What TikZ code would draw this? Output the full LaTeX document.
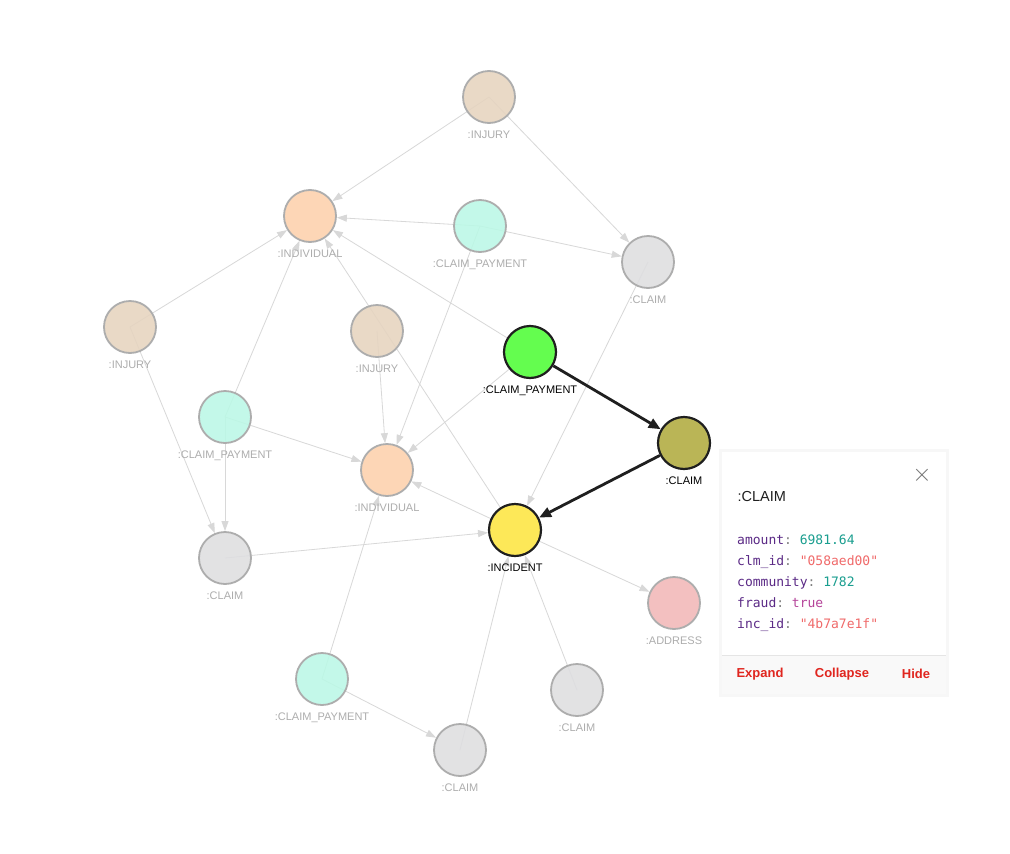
\documentclass[tikz,border=0pt]{standalone}
\usepackage{fontspec}
\setmainfont{Liberation Sans}
\setmonofont{DejaVu Sans Mono}
\usetikzlibrary{arrows.meta,backgrounds}

\definecolor{injC}{HTML}{E6D4BF}
\definecolor{indC}{HTML}{FDD1AC}
\definecolor{payC}{HTML}{BBF8E6}
\definecolor{clmC}{HTML}{DEDEE0}
\definecolor{adrC}{HTML}{F2B8B8}
\definecolor{faint}{HTML}{D8D8D8}
\definecolor{lblC}{HTML}{ADADAD}
\definecolor{keyC}{HTML}{5B2A86}
\definecolor{numC}{HTML}{1A9E8F}
\definecolor{strC}{HTML}{F06A6A}
\definecolor{boolC}{HTML}{B5449A}
\definecolor{btnC}{HTML}{E0261F}
\definecolor{payHot}{HTML}{64FD4F}
\definecolor{clmHot}{HTML}{BAB556}
\definecolor{incHot}{HTML}{FDE858}

\tikzset{
  ent/.style={circle,minimum size=52pt,inner sep=0pt,line width=1.8pt,draw=black!32,
    fill opacity=0.88,draw opacity=1,text opacity=1,
    label={[text=lblC,font=\fontsize{11}{12}\selectfont,yshift=-3pt]below:#1}},
  act/.style={circle,minimum size=52pt,inner sep=0pt,line width=2.2pt,draw=black!88,
    label={[text=black,font=\fontsize{11}{12}\selectfont,yshift=-3pt]below:#1}},
  rel/.style={draw=faint,line width=0.8pt,-{Triangle[length=10pt,width=7pt]}},
  hot/.style={draw=black!88,line width=2.8pt,-{Triangle[length=12pt,width=10pt]}},
  btn/.style={font=\bfseries\fontsize{13}{14}\selectfont,text=btnC},
}

\begin{document}
\begin{tikzpicture}[x=1pt,y=-1pt]
  \useasboundingbox (0,0) rectangle (1010,854);

  % entities
  \node[ent=:INJURY,fill=injC]             (injT) at (489,97)  {};
  \node[ent=:INDIVIDUAL,fill=indC]         (indA) at (310,216) {};
  \node[ent=:CLAIM\_PAYMENT,fill=payC]     (payA) at (480,226) {};
  \node[ent=:CLAIM,fill=clmC]              (clmA) at (648,262) {};
  \node[ent=:INJURY,fill=injC]             (injL) at (130,327) {};
  \node[ent=:INJURY,fill=injC]             (injM) at (377,331) {};
  \node[act=:CLAIM\_PAYMENT,fill=payHot]   (payG) at (530,352) {};
  \node[ent=:CLAIM\_PAYMENT,fill=payC]     (payL) at (225,417) {};
  \node[act=:CLAIM,fill=clmHot]            (clmO) at (684,443) {};
  \node[ent=:INDIVIDUAL,fill=indC]         (indB) at (387,470) {};
  \node[act=:INCIDENT,fill=incHot]         (inc)  at (515,530) {};
  \node[ent=:CLAIM,fill=clmC]              (clmL) at (225,558) {};
  \node[ent=:ADDRESS,fill=adrC]            (adr)  at (674,603) {};
  \node[ent=:CLAIM\_PAYMENT,fill=payC]     (payB) at (322,679) {};
  \node[ent=:CLAIM,fill=clmC]              (clmR) at (577,690) {};
  \node[ent=:CLAIM,fill=clmC]              (clmB) at (460,750) {};

  % relationships
  \begin{pgfonlayer}{background}
    \fill[white] (0,0) rectangle (1010,854);
    \foreach \s/\t in {injT/indA,injT/clmA,payA/indA,payA/clmA,payA/indB,
        injL/indA,injL/clmL,payL/indA,payL/indB,payL/clmL,injM/indB,
        inc/indA,payG/indA,payG/indB,inc/indB,clmL/inc,clmA/inc,inc/adr,
        clmR/inc,clmB/inc,payB/clmB,payB/indB}
      \draw[rel] (\s.center) -- (\t);
  \end{pgfonlayer}
  \draw[hot] (payG) -- (clmO);
  \draw[hot] (clmO) -- (inc);

  % detail panel
  \fill[black!3] (719,449) rectangle (949,697);
  \fill[white] (722,452) rectangle (946,694);
  \fill[black!2.5] (722,655) rectangle (946,694);
  \draw[black!10] (722,655) -- (946,655);
  \node[anchor=west,font=\fontsize{14.5}{15}\selectfont,text=black!88] (ptitle) at (734,497) {:CLAIM};
  \node[font=\fontsize{24}{24}\selectfont,text=black!55] (pclose) at (922,475) {$\times$};
  \node[anchor=north west,font=\ttfamily\fontsize{13}{21}\selectfont,align=left,inner sep=0pt] (pbody) at (737,535) {%
    \textcolor{keyC}{amount}\textcolor{black!50}{:} \textcolor{numC}{6981.64}\\
    \textcolor{keyC}{clm\_id}\textcolor{black!50}{:} \textcolor{strC}{"058aed00"}\\
    \textcolor{keyC}{community}\textcolor{black!50}{:} \textcolor{numC}{1782}\\
    \textcolor{keyC}{fraud}\textcolor{black!50}{:} \textcolor{boolC}{true}\\
    \textcolor{keyC}{inc\_id}\textcolor{black!50}{:} \textcolor{strC}{"4b7a7e1f"}};
  \node[btn] (bexp) at (760,674) {Expand};
  \node[btn] (bcol) at (842,674) {Collapse};
  \node[btn] (bhid) at (916,674) {Hide};
\end{tikzpicture}
\end{document}
